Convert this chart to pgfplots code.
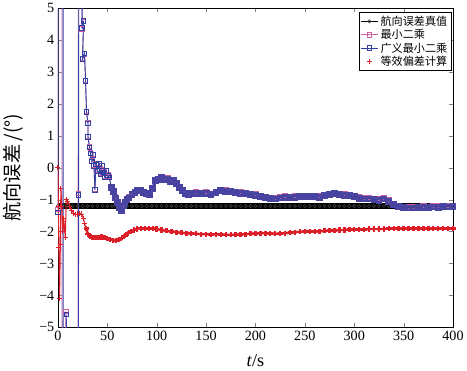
\documentclass[border=0pt]{standalone}
\usepackage{pgfplots}
\pgfplotsset{compat=1.18}
\usepackage{fontspec}
\setmainfont{Liberation Serif}
\newfontfamily\cjk{Noto Sans CJK SC}
\definecolor{cblue}{RGB}{50,62,160}
\definecolor{cpink}{RGB}{205,95,165}
\definecolor{cred}{RGB}{220,30,40}
\begin{document}
\begin{tikzpicture}
\begin{axis}[
  scale only axis, width=391pt, height=316pt,
  xmin=0, xmax=400, ymin=-5, ymax=5,
  xtick={0,50,...,400},
  ytick={-5,-4,...,5},
  yticklabels={−5,−4,−3,−2,−1,0,1,2,3,4,5},
  /pgf/number format/assume math mode=true,
  tick label style={font=\fontsize{14}{16}\selectfont},
  tick align=inside,
  xlabel={\textit{t}/s},
  ylabel={\cjk 航向误差\,/(°)},
  xlabel style={font=\fontsize{18}{20}\selectfont, at={(axis description cs:0.5,0)}, anchor=center, yshift=-33pt},
  ylabel style={font=\fontsize{19}{21}\selectfont, at={(axis description cs:0,0.5)}, anchor=center, yshift=44pt},
  legend style={font=\cjk\fontsize{11}{12}\selectfont, at={(1,1)}, anchor=north east, xshift=-2pt, yshift=-4pt, inner sep=1.5pt, row sep=-1.5pt, draw=black},
  legend cell align=left,
]
% 航向误差真值: dense band
\addplot[black, line width=5.5pt, forget plot] coordinates {(0,-1.2)(400,-1.2)};
\addplot[black, line width=0.6pt, mark=o, mark size=1.6pt, mark options={draw=black!75}] coordinates {
(0,-1.2)(5,-1.2)(10,-1.2)(15,-1.2)(20,-1.2)(25,-1.2)(30,-1.2)(35,-1.2)(40,-1.2)(45,-1.2)
(50,-1.2)(55,-1.2)(60,-1.2)(65,-1.2)(70,-1.2)(75,-1.2)(80,-1.2)(85,-1.2)(90,-1.2)(95,-1.2)
(100,-1.2)(105,-1.2)(110,-1.2)(115,-1.2)(120,-1.2)(125,-1.2)(130,-1.2)(135,-1.2)(140,-1.2)(145,-1.2)
(150,-1.2)(155,-1.2)(160,-1.2)(165,-1.2)(170,-1.2)(175,-1.2)(180,-1.2)(185,-1.2)(190,-1.2)(195,-1.2)
(200,-1.2)(205,-1.2)(210,-1.2)(215,-1.2)(220,-1.2)(225,-1.2)(230,-1.2)(235,-1.2)(240,-1.2)(245,-1.2)
(250,-1.2)(255,-1.2)(260,-1.2)(265,-1.2)(270,-1.2)(275,-1.2)(280,-1.2)(285,-1.2)(290,-1.2)(295,-1.2)
(300,-1.2)(305,-1.2)(310,-1.2)(315,-1.2)(320,-1.2)(325,-1.2)(330,-1.2)(335,-1.2)(340,-1.2)(345,-1.2)
(350,-1.2)(355,-1.2)(360,-1.2)(365,-1.2)(370,-1.2)(375,-1.2)(380,-1.2)(385,-1.2)(390,-1.2)(395,-1.2)(400,-1.2)
};
\addlegendentry{航向误差真值}
% 最小二乘 (early part)
\addplot[cpink, line width=0.8pt, mark=square, mark size=2.2pt] coordinates {
(0,-1.3)(1,100)(4,100)(4.5,-100)(8,-4.5)(16,-100)(20.5,-0.8)(22,100)
(24.5,4.35)(26,4.58)(25,3.42)(27,3.56)(28,2.74)(29,1.77)(30.5,1.4)(30.5,0.98)(32,0.66)(33,0.47)(34.5,0.21)
(35.5,0.42)(36.5,0.07)(37.5,-0.68)(38.5,0.12)(40,-0.08)(41.5,0.14)(43,-0.18)(44.5,0.07)(46,-0.13)(47.5,-0.28)
(49,-0.08)(50.5,-0.23)(52,-0.28)(54,-0.6)
};
\addlegendentry{最小二乘}
% 最小二乘 (later part)
\addplot[cpink, line width=2.4pt, mark=square, mark size=2pt, forget plot] coordinates {
(54,-0.6)(56,-0.73)(58,-0.93)(60,-1.08)(62,-1.23)(64,-1.31)(66,-1.18)
(68,-1.08)(70,-0.98)(72,-0.93)(75,-0.83)(78,-0.76)(81,-0.7)(84,-0.7)(87,-0.76)(90,-0.8)(93,-0.83)
(96,-0.63)(99,-0.38)(102,-0.36)(105,-0.3)(108,-0.36)(111,-0.34)(114,-0.4)(117,-0.38)(120,-0.48)
(123,-0.6)(126,-0.7)(129,-0.8)(132,-0.82)(136,-0.8)(140,-0.78)(145,-0.8)(150,-0.78)(155,-0.83)
(160,-0.76)(165,-0.7)(170,-0.72)(175,-0.73)(180,-0.76)(185,-0.78)(190,-0.8)(195,-0.83)(200,-0.84)
(205,-0.88)(210,-0.91)(215,-0.95)(220,-0.96)(225,-0.93)(230,-0.9)(235,-0.91)(240,-0.9)(245,-0.88)
(250,-0.89)(255,-0.88)(260,-0.88)(265,-0.9)(270,-0.86)(275,-0.82)(280,-0.8)(285,-0.82)(290,-0.84)
(295,-0.86)(300,-0.88)(305,-0.94)(310,-0.96)(315,-0.96)(320,-0.98)(325,-1.0)(330,-0.96)(335,-1.03)
(340,-1.13)(345,-1.2)(350,-1.23)(355,-1.24)(360,-1.24)(365,-1.23)(370,-1.22)(375,-1.23)(380,-1.21)
(385,-1.22)(390,-1.2)(395,-1.21)(400,-1.2)
};
% 广义最小二乘 (early part)
\addplot[cblue, line width=0.9pt, mark=square, mark size=2.2pt] coordinates {
(0,-1.4)(0.5,100)(5,100)(5.5,-100)(8.5,-4.6)(17,-100)(21,-0.85)(22.5,100)
(24.5,4.37)(26,4.6)(25,3.4)(27,3.58)(28,2.72)(29,1.75)(30.5,1.38)(30.5,0.96)(32,0.64)(33,0.45)(34.5,0.19)
(35.5,0.4)(36.5,0.05)(37.5,-0.7)(38.5,0.1)(40,-0.1)(41.5,0.12)(43,-0.2)(44.5,0.05)(46,-0.15)(47.5,-0.3)
(49,-0.1)(50.5,-0.25)(52,-0.3)(54,-0.62)
};
\addlegendentry{广义最小二乘}
% 广义最小二乘 (later part)
\addplot[cblue, line width=2.8pt, mark=square, mark size=2pt, mark options={draw=cblue!85!cpink}, forget plot] coordinates {
(54,-0.62)(56,-0.75)(58,-0.95)(60,-1.1)(62,-1.25)(64,-1.33)(66,-1.2)
(68,-1.1)(70,-1.0)(72,-0.95)(75,-0.85)(78,-0.78)(81,-0.72)(84,-0.72)(87,-0.78)(90,-0.82)(93,-0.85)
(96,-0.65)(99,-0.4)(102,-0.38)(105,-0.32)(108,-0.38)(111,-0.36)(114,-0.42)(117,-0.4)(120,-0.5)
(123,-0.62)(126,-0.72)(129,-0.82)(132,-0.84)(136,-0.82)(140,-0.8)(145,-0.82)(150,-0.8)(155,-0.85)
(160,-0.78)(165,-0.72)(170,-0.74)(175,-0.75)(180,-0.78)(185,-0.8)(190,-0.82)(195,-0.85)(200,-0.86)
(205,-0.9)(210,-0.93)(215,-0.97)(220,-0.98)(225,-0.95)(230,-0.92)(235,-0.93)(240,-0.92)(245,-0.9)
(250,-0.91)(255,-0.9)(260,-0.9)(265,-0.92)(270,-0.88)(275,-0.84)(280,-0.82)(285,-0.84)(290,-0.86)
(295,-0.88)(300,-0.9)(305,-0.96)(310,-0.98)(315,-0.98)(320,-1.0)(325,-1.02)(330,-0.98)(335,-1.05)
(340,-1.15)(345,-1.22)(350,-1.25)(355,-1.26)(360,-1.26)(365,-1.25)(370,-1.24)(375,-1.25)(380,-1.23)
(385,-1.24)(390,-1.22)(395,-1.23)(400,-1.22)
};
% 等效偏差计算 (early part)
\addplot[cred, line width=1pt, mark=+, mark size=2.5pt, legend image code/.code={\draw[cred, line width=0.8pt] (0.3cm,-0.1cm) -- (0.3cm,0.1cm) (0.2cm,0cm) -- (0.4cm,0cm);}] coordinates {
(0,0.0)(0.5,-1.2)(1,-2.5)(1.7,-4.1)(2.5,-2.4)(3,-0.65)(4,-1.2)(5,-2.0)(6,-1.6)(7.5,-2.2)(8.5,-0.99)
(10,-1.05)(12,-1.2)(14,-1.35)(16,-1.42)(18,-1.47)(20,-1.45)(22,-1.42)(24,-1.45)(26,-1.6)(27,-1.75)
(28.5,-1.9)
};
\addlegendentry{等效偏差计算}
% 等效偏差计算 (later part)
\addplot[cred, line width=2.4pt, mark=+, mark size=2.5pt, forget plot] coordinates {
(28.5,-1.9)(30.5,-2.08)(33,-2.15)(35,-2.2)(38,-2.18)(41,-2.2)(44,-2.17)(47,-2.2)(50,-2.22)(53,-2.25)
(56,-2.27)(59,-2.28)(62,-2.25)(65,-2.2)(68,-2.12)(71,-2.05)(74,-2.0)(77,-1.95)(80,-1.92)(84,-1.89)
(88,-1.9)(92,-1.9)(96,-1.91)(100,-1.92)(105,-1.95)(110,-1.98)(115,-2.0)(120,-2.02)(125,-2.04)
(130,-2.05)(135,-2.06)(140,-2.07)(145,-2.08)(150,-2.08)(155,-2.09)(160,-2.08)(165,-2.09)(170,-2.1)
(175,-2.1)(180,-2.1)(185,-2.09)(190,-2.08)(195,-2.07)(200,-2.06)(205,-2.05)(210,-2.05)(215,-2.06)
(220,-2.07)(225,-2.06)(230,-2.05)(235,-2.03)(240,-2.02)(245,-2.01)(250,-2.0)(255,-2.0)(260,-2.0)
(265,-1.99)(270,-1.98)(275,-1.97)(280,-1.96)(285,-1.95)(290,-1.95)(295,-1.94)(300,-1.93)(305,-1.93)
(310,-1.93)(315,-1.92)(320,-1.92)(325,-1.92)(330,-1.92)(335,-1.91)(340,-1.91)(345,-1.9)(350,-1.9)
(355,-1.91)(360,-1.91)(365,-1.9)(370,-1.9)(375,-1.9)(380,-1.9)(385,-1.91)(390,-1.91)(395,-1.9)(400,-1.9)
};
\end{axis}
\end{tikzpicture}
\end{document}
